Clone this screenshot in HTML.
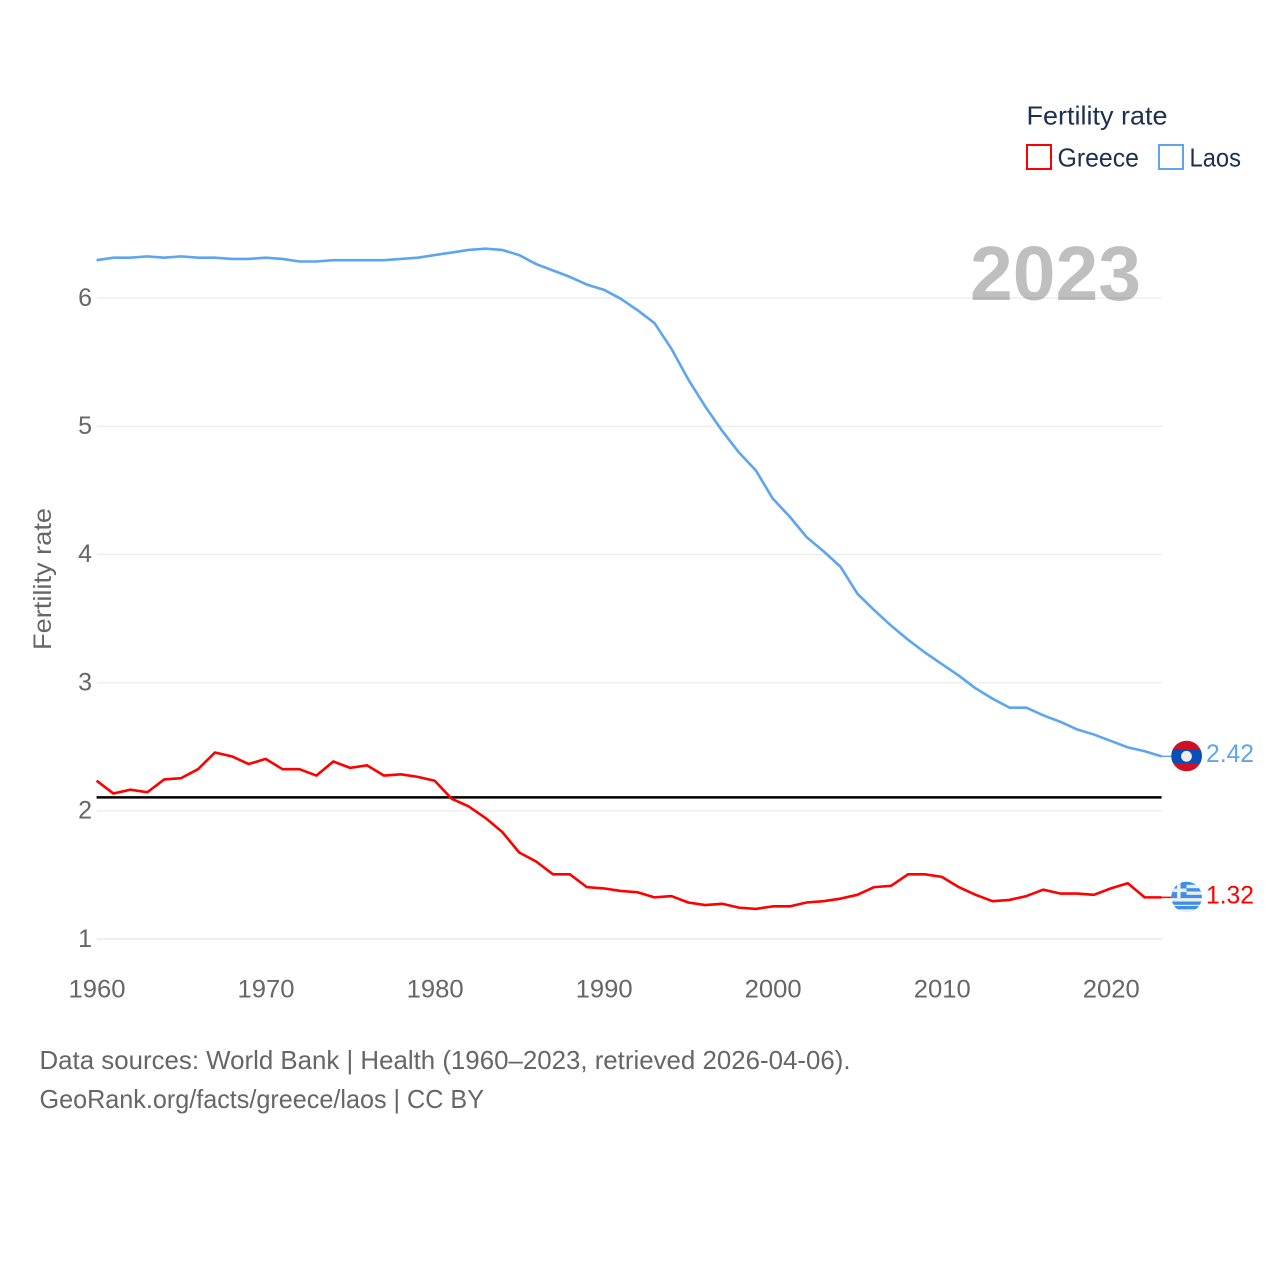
<!DOCTYPE html>
<html lang="en">
<head>
<meta charset="utf-8">
<title>Fertility rate: Greece and Laos</title>
<style>
html,body{margin:0;padding:0;background:#fff}
svg{display:block}
text{font-family:"Liberation Sans",sans-serif}
</style>
</head>
<body>
<svg id="chart" xmlns="http://www.w3.org/2000/svg" width="1280" height="1280" viewBox="0 0 1280 1280">
  <defs>
    <clipPath id="flag-clip-laos"><circle cx="1186.6" cy="756" r="15.3"/></clipPath>
    <clipPath id="flag-clip-greece"><circle cx="1186.6" cy="897" r="15.3"/></clipPath>
  </defs>
  <rect x="0" y="0" width="1280" height="1280" fill="#fff"/>

  <g id="grid"></g>
  <text x="1141" y="299.8" text-anchor="end" font-size="77" font-weight="700" fill="#000" fill-opacity="0.25" textLength="171" lengthAdjust="spacingAndGlyphs">2023</text>
  <g id="y-ticks"></g>
  <g id="x-ticks"></g>
  <text transform="translate(51,650) rotate(-90)" font-size="25" fill="#666" textLength="142" lengthAdjust="spacingAndGlyphs">Fertility rate</text>
  <g id="series" transform="translate(-0.4,-0.6)"></g>

  <g>
    <text x="1026.5" y="124.3" font-size="26" fill="#1d3050" textLength="141" lengthAdjust="spacingAndGlyphs">Fertility rate</text>
    <rect x="1027" y="145" width="24" height="24" fill="#fff" stroke="#ff0000" stroke-width="2"/>
    <text x="1057.5" y="166.3" font-size="26" fill="#1d3050" textLength="81.5" lengthAdjust="spacingAndGlyphs">Greece</text>
    <rect x="1159" y="145" width="24" height="24" fill="#fff" stroke="#5da5ee" stroke-width="2"/>
    <text x="1189.5" y="166.3" font-size="26" fill="#1d3050" textLength="51.5" lengthAdjust="spacingAndGlyphs">Laos</text>
  </g>

  <g clip-path="url(#flag-clip-laos)">
    <rect x="1171" y="740" width="32" height="32" fill="#ce1126"/>
    <rect x="1171" y="749" width="32" height="14.5" fill="#0a4fb5"/>
    <circle cx="1186.5" cy="756.3" r="5.4" fill="#eee"/>
  </g>
  <g clip-path="url(#flag-clip-greece)">
    <rect x="1171" y="881" width="32" height="32" fill="#eee"/>
    <rect x="1171" y="881" width="32" height="3.8" fill="#3d8fe8"/>
    <rect x="1171" y="888.2" width="32" height="3.3" fill="#3d8fe8"/>
    <rect x="1171" y="894.8" width="32" height="3.3" fill="#3d8fe8"/>
    <rect x="1171" y="901.5" width="32" height="3.3" fill="#3d8fe8"/>
    <rect x="1171" y="906" width="32" height="3.3" fill="#3d8fe8"/>
    <rect x="1171" y="881" width="15.5" height="17" fill="#3d8fe8"/>
    <rect x="1177" y="881" width="3.6" height="17" fill="#eee"/>
    <rect x="1171" y="888.5" width="15.5" height="3.6" fill="#eee"/>
  </g>
  <text id="value-laos" x="1206" y="762.2" font-size="25" fill="#5da5ee" textLength="48" lengthAdjust="spacingAndGlyphs"></text>
  <text id="value-greece" x="1206" y="903.4" font-size="25" fill="#ff0000" textLength="48" lengthAdjust="spacingAndGlyphs"></text>

  <g>
    <text x="39.5" y="1069.2" font-size="26" fill="#666" textLength="811" lengthAdjust="spacingAndGlyphs">Data sources: World Bank | Health (1960–2023, retrieved 2026-04-06).</text>
    <text x="39.5" y="1108.2" font-size="26" fill="#666" textLength="444.5" lengthAdjust="spacingAndGlyphs">GeoRank.org/facts/greece/laos | CC BY</text>
  </g>
</svg>
<script>
const startYear = 1960;
const endYear = 2023;
const yTickValues = [1, 2, 3, 4, 5, 6];
const xTickValues = [1960, 1970, 1980, 1990, 2000, 2010, 2020];
const replacementRate = [2.1];
const greeceValues = [2.23,2.13,2.16,2.14,2.24,2.25,2.32,2.45,2.42,2.36,2.40,2.32,2.32,2.27,2.38,2.33,2.35,2.27,2.28,2.26,2.23,2.09,2.03,1.94,1.83,1.67,1.60,1.50,1.50,1.40,1.39,1.37,1.36,1.32,1.33,1.28,1.26,1.27,1.24,1.23,1.25,1.25,1.28,1.29,1.31,1.34,1.40,1.41,1.50,1.50,1.48,1.40,1.34,1.29,1.30,1.33,1.38,1.35,1.35,1.34,1.39,1.43,1.32,1.32];
const laosValues = [6.29,6.31,6.31,6.32,6.31,6.32,6.31,6.31,6.30,6.30,6.31,6.30,6.28,6.28,6.29,6.29,6.29,6.29,6.30,6.31,6.33,6.35,6.37,6.38,6.37,6.33,6.26,6.21,6.16,6.10,6.06,5.99,5.90,5.80,5.60,5.36,5.15,4.96,4.79,4.65,4.43,4.29,4.13,4.02,3.90,3.69,3.56,3.44,3.33,3.23,3.14,3.05,2.95,2.87,2.80,2.80,2.74,2.69,2.63,2.59,2.54,2.49,2.46,2.42];

const NS = 'http://www.w3.org/2000/svg';
const plotLeft = 97, plotRight = 1162;
const xScale = function (year) { return plotLeft + (year - startYear) * (plotRight - plotLeft) / (endYear - startYear); };
const yScale = function (v) { return 939 - (v - 1) * (939 - 298) / 5; };

function make(tag, parent, attrs) {
  const el = document.createElementNS(NS, tag);
  Object.keys(attrs).forEach(function (k) { el.setAttribute(k, attrs[k]); });
  parent.appendChild(el);
  return el;
}

const gridLayer = document.getElementById('grid');
const yTickLayer = document.getElementById('y-ticks');
const xTickLayer = document.getElementById('x-ticks');
const seriesLayer = document.getElementById('series');

yTickValues.forEach(function (v) {
  const line = make('line', gridLayer, { x1: plotLeft, x2: plotRight, y1: yScale(v), y2: yScale(v), stroke: '#eeeeee', 'stroke-width': v === 1 ? 2 : 1.5 });
  
  
  const label = make('text', yTickLayer, { x: 92, y: yScale(v) + 7.8, 'text-anchor': 'end', 'font-size': 25, fill: '#666' });
  
  
  label.textContent = v;
});

xTickValues.forEach(function (yr) {
  const label = make('text', xTickLayer, { x: xScale(yr), y: 997.6, 'text-anchor': 'middle', 'font-size': 25, fill: '#666', textLength: 57, lengthAdjust: 'spacingAndGlyphs' });
  
  
  label.textContent = yr;
});

function linePoints(values) {
  return values.map(function (v, i) { return xScale(startYear + i).toFixed(2) + ',' + yScale(v).toFixed(2); }).join(' ');
}

const refLine = make('line', seriesLayer, { x1: plotLeft, x2: plotRight, y1: yScale(replacementRate[0]), y2: yScale(replacementRate[0]), stroke: '#000', 'stroke-width': 2.6 });



const laosLine = make('polyline', seriesLayer, { points: linePoints(laosValues), fill: 'none', stroke: '#5da5ee', 'stroke-width': 2.6, 'stroke-linejoin': 'round' });



const greeceLine = make('polyline', seriesLayer, { points: linePoints(greeceValues), fill: 'none', stroke: '#ff0000', 'stroke-width': 2.6, 'stroke-linejoin': 'round' });



const laosLast = laosValues[laosValues.length - 1];
const greeceLast = greeceValues[greeceValues.length - 1];

const laosConnector = make('line', seriesLayer, { x1: plotRight, x2: 1172, y1: yScale(laosLast), y2: yScale(laosLast), stroke: '#5da5ee', 'stroke-width': 1.5 });



const greeceConnector = make('line', seriesLayer, { x1: plotRight, x2: 1172, y1: yScale(greeceLast), y2: yScale(greeceLast), stroke: '#ff0000', 'stroke-width': 1.5 });



document.getElementById('value-laos').textContent = laosLast.toFixed(2);
document.getElementById('value-greece').textContent = greeceLast.toFixed(2);
</script>
</body>
</html>
